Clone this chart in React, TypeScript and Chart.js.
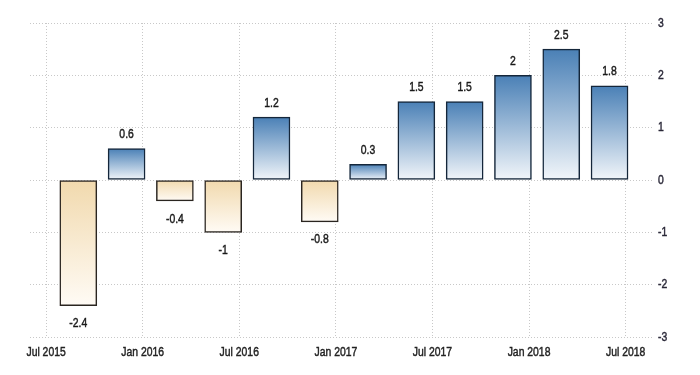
import React, { useEffect, useRef } from "react";
import { Chart, registerables } from "chart.js";

Chart.register(...registerables);

// Quarter periods (year-month of each bar)
const periods = [
  "2015-09", "2015-12", "2016-03", "2016-06", "2016-09", "2016-12",
  "2017-03", "2017-06", "2017-09", "2017-12", "2018-03", "2018-06",
];
const values = [-2.4, 0.6, -0.4, -1, 1.2, -0.8, 0.3, 1.5, 1.5, 2, 2.5, 1.8];
const xTickLabels = ["Jul 2015", "Jan 2016", "Jul 2016", "Jan 2017", "Jul 2017", "Jan 2018", "Jul 2018"];
const yTicks = [-3, -2, -1, 0, 1, 2, 3];

const MONTHS = ["Jan", "Feb", "Mar", "Apr", "May", "Jun", "Jul", "Aug", "Sep", "Oct", "Nov", "Dec"];
const BASE_YEAR = 2015;
const BASE_MONTH = 6; // Jul

const monthIndexFromPeriod = (p: string) => {
  const [y, m] = p.split("-").map(Number);
  return (y - BASE_YEAR) * 12 + (m - 1) - BASE_MONTH;
};
const monthIndexFromLabel = (l: string) => {
  const [mn, y] = l.split(" ");
  return (Number(y) - BASE_YEAR) * 12 + MONTHS.indexOf(mn) - BASE_MONTH;
};

const FONT = "'Liberation Sans', Arial, sans-serif";
const NARROW = 0.8;

// draw horizontally condensed text (narrow sans look)
const narrowText = (ctx: any, text: string, x: number, y: number, align: "center" | "left") => {
  ctx.save();
  ctx.translate(x, y);
  ctx.scale(NARROW, 1);
  ctx.textAlign = align;
  ctx.textBaseline = "middle";
  ctx.lineWidth = 0.45;
  ctx.strokeStyle = ctx.fillStyle;
  ctx.fillText(text, 0, 0);
  ctx.strokeText(text, 0, 0);
  ctx.restore();
};

const textPlugin = {
  id: "narrowLabels",
  afterDraw(chart: any) {
    const ctx = chart.ctx;
    const meta = chart.getDatasetMeta(0);
    const xs = chart.scales.x;
    const ys = chart.scales.y;
    const area = chart.chartArea;
    ctx.save();
    ctx.font = `13px ${FONT}`;
    // value labels
    ctx.fillStyle = "#1a1a1a";
    meta.data.forEach((el: any, i: number) => {
      const v = values[i];
      const y = v >= 0 ? el.y - 14 : el.y + 18;
      narrowText(ctx, String(v), el.x, y, "center");
    });
    // x tick labels
    ctx.fillStyle = "#222222";
    xTickLabels.forEach((l) => {
      narrowText(ctx, l, xs.getPixelForValue(monthIndexFromLabel(l)), area.bottom + 15, "center");
    });
    // y tick labels
    ctx.fillStyle = "#2a2838";
    yTicks.forEach((t) => {
      narrowText(ctx, String(t), area.right + 5, ys.getPixelForValue(t), "left");
    });
    ctx.restore();
  },
};

export default function App() {
  const ref = useRef<HTMLCanvasElement>(null);

  useEffect(() => {
    if (!ref.current) return;
    const data = periods.map((p, i) => ({ x: monthIndexFromPeriod(p), y: values[i] }));
    const tickMonths = xTickLabels.map(monthIndexFromLabel);

    const bg = (c: any) => {
      const chart = c.chart;
      const v = values[c.dataIndex];
      const ys = chart.scales?.y;
      if (!ys || v === undefined) return v >= 0 ? "#7fa6cc" : "#f5e3c4";
      const p0 = ys.getPixelForValue(Math.max(v, 0));
      const p1 = ys.getPixelForValue(Math.min(v, 0));
      if (!isFinite(p0) || !isFinite(p1) || p0 === p1) return v >= 0 ? "#7fa6cc" : "#f5e3c4";
      const g = chart.ctx.createLinearGradient(0, p0, 0, p1);
      if (v >= 0) {
        g.addColorStop(0, "#4a80b6");
        g.addColorStop(1, "#f2f6fa");
      } else {
        g.addColorStop(0, "#f1d9ad");
        g.addColorStop(1, "#fffbf5");
      }
      return g;
    };

    const chart = new Chart(ref.current, {
      type: "bar",
      data: {
        datasets: [
          {
            data,
            backgroundColor: bg,
            borderColor: (c: any) => (values[c.dataIndex] >= 0 ? "#14263a" : "#2a2520"),
            borderWidth: 1.5,
            borderSkipped: false,
            barThickness: 37,
          },
        ],
      },
      options: {
        animation: false,
        responsive: true,
        maintainAspectRatio: false,
        layout: { padding: { left: 30, top: 23, right: 0, bottom: 0 } },
        plugins: { legend: { display: false }, tooltip: { enabled: false } },
        scales: {
          x: {
            type: "linear",
            min: -1,
            max: 37.7,
            offset: false,
            grid: {
              offset: false,
              color: "#c8c8c8",
              lineWidth: 1,
              drawTicks: false,
            } as any,
            border: { display: false, dash: [1, 2] },
            afterBuildTicks: (scale: any) => {
              scale.ticks = tickMonths.map((v) => ({ value: v }));
            },
            afterFit: (scale: any) => {
              scale.height = 38;
            },
            ticks: {
              autoSkip: false,
              maxRotation: 0,
              color: "rgba(0,0,0,0)",
              font: { family: FONT, size: 13 },
            },
          },
          y: {
            position: "right",
            min: yTicks[0],
            max: yTicks[yTicks.length - 1],
            grid: { color: "#c8c8c8", lineWidth: 1, drawTicks: false },
            border: { display: false, dash: [1, 2] },
            afterBuildTicks: (scale: any) => {
              scale.ticks = yTicks.map((v) => ({ value: v }));
            },
            afterFit: (scale: any) => {
              scale.width = 47;
            },
            ticks: {
              color: "rgba(0,0,0,0)",
              font: { family: FONT, size: 13 },
            },
          },
        },
      },
      plugins: [textPlugin],
    });
    return () => chart.destroy();
  }, []);

  return (
    <div style={{ position: "fixed", left: 0, top: 0, width: 700, height: 375, background: "#fff" }}>
      <canvas ref={ref} />
    </div>
  );
}
